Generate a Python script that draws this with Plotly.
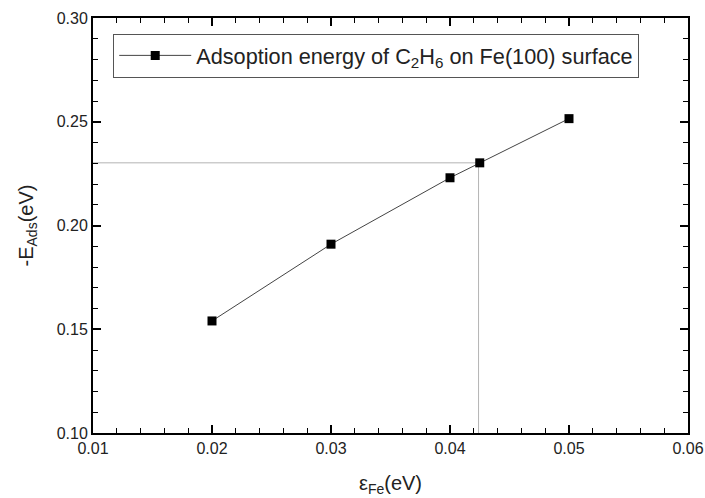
import plotly.graph_objects as go

# Data
strain = [0.02, 0.03, 0.04, 0.0425, 0.05]
energy = [0.154, 0.191, 0.223, 0.2302, 0.2515]
ref_x = 0.0424
ref_y = 0.2302
x_ticks = [0.01, 0.02, 0.03, 0.04, 0.05, 0.06]
y_ticks = [0.10, 0.15, 0.20, 0.25, 0.30]

FONT = "Liberation Sans, Arial, sans-serif"

fig = go.Figure()

# guide lines
fig.add_trace(go.Scatter(
    x=[x_ticks[0], ref_x, ref_x], y=[ref_y, ref_y, y_ticks[0]],
    mode="lines", line=dict(color="#b4b4b4", width=1),
    showlegend=False, hoverinfo="skip"))

fig.add_trace(go.Scatter(
    x=strain, y=energy, mode="lines+markers",
    name="Adsoption energy of C<sub>2</sub>H<sub>6</sub> on Fe(100) surface",
    line=dict(color="#444444", width=1),
    marker=dict(symbol="square", size=9, color="black")))

axis_common = dict(
    showline=True, linecolor="black", linewidth=2, mirror="allticks",
    ticks="inside", ticklen=8, tickwidth=1.5, tickcolor="black",
    showgrid=False, zeroline=False, automargin=False,
    tickfont=dict(family=FONT, size=16, color="#222"),
    tickformat=".2f",
    minor=dict(ticks="inside", ticklen=5, tickwidth=1.3, tickcolor="black"),
)

fig.update_xaxes(range=[x_ticks[0], x_ticks[-1]], tickvals=x_ticks,
                 minor_dtick=0.002,
                 title=dict(text="ε<sub>Fe</sub>(eV)", font=dict(family=FONT, size=20, color="#222"), standoff=20),
                 **axis_common)
fig.update_yaxes(range=[y_ticks[0], y_ticks[-1]], tickvals=y_ticks,
                 minor_dtick=0.01,
                 title=dict(text="-E<sub>Ads</sub>(eV)", font=dict(family=FONT, size=20, color="#222"), standoff=18),
                 **axis_common)

fig.update_layout(
    width=705, height=498,
    margin=dict(l=93, r=17, t=18, b=65, autoexpand=False),
    paper_bgcolor="white", plot_bgcolor="white",
    font=dict(family=FONT, color="#222"),
    legend=dict(x=0.034, y=0.962, xanchor="left", yanchor="top",
                bgcolor="white", bordercolor="#555", borderwidth=1,
                itemwidth=72, tracegroupgap=0,
                font=dict(family=FONT, size=21.7, color="#222")),
)

fig.write_html("out.html", config={"displayModeBar": False},
               post_script="document.body.style.margin='0';document.body.style.overflow='hidden';")
